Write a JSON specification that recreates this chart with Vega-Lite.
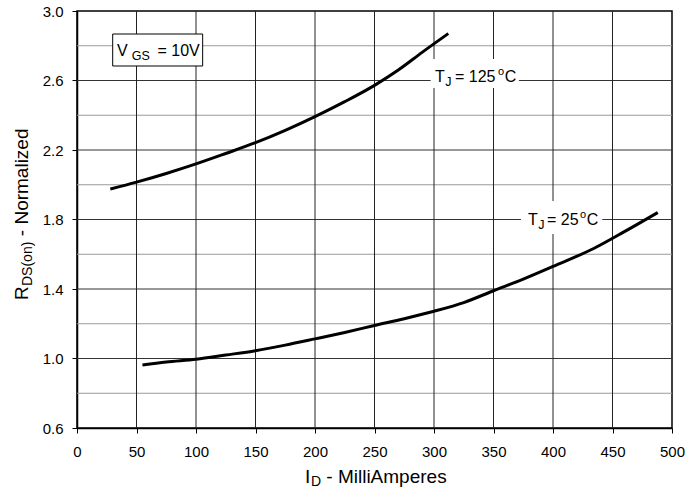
{
  "$schema": "https://vega.github.io/schema/vega-lite/v6.json",
  "width": 595,
  "height": 417,
  "autosize": {"type": "none"},
  "padding": {"left": 77, "top": 11, "right": 16, "bottom": 60},
  "background": "white",
  "config": {
    "font": "Liberation Sans",
    "view": {"stroke": "#000", "strokeWidth": 1.5},
    "axis": {"grid": false, "labelFont": "Liberation Sans", "labelFontSize": 15, "labelColor": "#000", "tickColor": "#000", "domainColor": "#000", "domainWidth": 1.5, "tickSize": 5, "tickWidth": 1}
  },
  "resolve": {"axis": {"x": "independent", "y": "independent"}},
  "datasets": {
    "curves": [
      {"series": "125C", "x": 28, "y": 1.975},
      {"series": "125C", "x": 50, "y": 2.015},
      {"series": "125C", "x": 75, "y": 2.065},
      {"series": "125C", "x": 100, "y": 2.12},
      {"series": "125C", "x": 125, "y": 2.18},
      {"series": "125C", "x": 150, "y": 2.242},
      {"series": "125C", "x": 175, "y": 2.313},
      {"series": "125C", "x": 200, "y": 2.392},
      {"series": "125C", "x": 225, "y": 2.478},
      {"series": "125C", "x": 250, "y": 2.572},
      {"series": "125C", "x": 270, "y": 2.66},
      {"series": "125C", "x": 290, "y": 2.762},
      {"series": "125C", "x": 312, "y": 2.87},
      {"series": "25C", "x": 55, "y": 0.963},
      {"series": "25C", "x": 75, "y": 0.98},
      {"series": "25C", "x": 100, "y": 0.996},
      {"series": "25C", "x": 125, "y": 1.02},
      {"series": "25C", "x": 150, "y": 1.045},
      {"series": "25C", "x": 175, "y": 1.077},
      {"series": "25C", "x": 200, "y": 1.113},
      {"series": "25C", "x": 225, "y": 1.15},
      {"series": "25C", "x": 250, "y": 1.19},
      {"series": "25C", "x": 275, "y": 1.229},
      {"series": "25C", "x": 300, "y": 1.272},
      {"series": "25C", "x": 325, "y": 1.322},
      {"series": "25C", "x": 350, "y": 1.39},
      {"series": "25C", "x": 375, "y": 1.457},
      {"series": "25C", "x": 400, "y": 1.53},
      {"series": "25C", "x": 435, "y": 1.636},
      {"series": "25C", "x": 460, "y": 1.73},
      {"series": "25C", "x": 488, "y": 1.84}
    ],
    "gridx": [
      {"x": 50}, {"x": 100}, {"x": 150}, {"x": 200}, {"x": 250},
      {"x": 300}, {"x": 350}, {"x": 400}, {"x": 450}
    ],
    "gridy": [
      {"y": 0.8, "major": 0},
      {"y": 1.0, "major": 1},
      {"y": 1.2, "major": 0},
      {"y": 1.4, "major": 1},
      {"y": 1.6, "major": 0},
      {"y": 1.8, "major": 1},
      {"y": 2.0, "major": 0},
      {"y": 2.2, "major": 1},
      {"y": 2.4, "major": 0},
      {"y": 2.6, "major": 1},
      {"y": 2.8, "major": 0}
    ],
    "boxes": [
      {"x": 297.2, "x2": 371.4, "y": 2.557, "y2": 2.724},
      {"x": 373.1, "x2": 441.4, "y": 1.7165, "y2": 1.9065}
    ],
    "legendbox": [
      {"x": 30.0, "x2": 105.6, "y": 2.6835, "y2": 2.8676}
    ],
    "labels": [
      {"t": "V", "x": 33.6, "y": 2.741, "r": "main"},
      {"t": "GS", "x": 46.0, "y": 2.741, "r": "sub"},
      {"t": "= 10V", "x": 67.6, "y": 2.741, "r": "main"},
      {"t": "T", "x": 300.8, "y": 2.59, "r": "main"},
      {"t": "J", "x": 309.5, "y": 2.59, "r": "sub"},
      {"t": "= 125", "x": 317.6, "y": 2.59, "r": "main"},
      {"t": "o", "x": 353.8, "y": 2.59, "r": "sup"},
      {"t": "C", "x": 359.4, "y": 2.59, "r": "main"},
      {"t": "T", "x": 379.0, "y": 1.768, "r": "main"},
      {"t": "J", "x": 387.6, "y": 1.768, "r": "sub"},
      {"t": "= 25", "x": 395.0, "y": 1.768, "r": "main"},
      {"t": "o", "x": 422.7, "y": 1.768, "r": "sup"},
      {"t": "C", "x": 428.4, "y": 1.768, "r": "main"},
      {"t": "I", "x": 191.6, "y": 0.285, "r": "xtitle"},
      {"t": "D", "x": 196.6, "y": 0.285, "r": "xtitlesub"},
      {"t": "- MilliAmperes", "x": 209.5, "y": 0.285, "r": "xtitle"},
      {"t": "R", "x": -41.2, "y": 1.3367, "r": "ytitle"},
      {"t": "DS(on)", "x": -41.2, "y": 1.4173, "r": "ytitlesub"},
      {"t": "- Normalized", "x": -41.2, "y": 1.7039, "r": "ytitle"}
    ]
  },
  "layer": [
    {
      "data": {"name": "gridy"},
      "transform": [{"filter": "datum.major == 0"}],
      "mark": {"type": "rule", "color": "#9a9a9a", "strokeWidth": 1},
      "encoding": {
        "x": {"datum": 0, "type": "quantitative", "axis": null},
        "x2": {"datum": 500},
        "y": {"field": "y", "type": "quantitative", "axis": null}
      }
    },
    {
      "data": {"name": "gridy"},
      "transform": [{"filter": "datum.major == 1"}],
      "mark": {"type": "rule", "color": "#333", "strokeWidth": 1},
      "encoding": {
        "x": {"datum": 0, "type": "quantitative", "axis": null},
        "x2": {"datum": 500},
        "y": {"field": "y", "type": "quantitative", "axis": null}
      }
    },
    {
      "data": {"name": "gridx"},
      "mark": {"type": "rule", "color": "#222", "strokeWidth": 1},
      "encoding": {
        "x": {"field": "x", "type": "quantitative", "axis": null},
        "y": {"datum": 0.6, "type": "quantitative", "axis": null},
        "y2": {"datum": 3.0}
      }
    },
    {
      "data": {"name": "curves"},
      "mark": {"type": "line", "color": "#000", "strokeWidth": 3, "interpolate": "monotone"},
      "encoding": {
        "x": {
          "field": "x", "type": "quantitative", "title": null,
          "scale": {"domain": [0, 500], "nice": false, "zero": false},
          "axis": {"values": [0, 50, 100, 150, 200, 250, 300, 350, 400, 450, 500], "grid": false, "labelPadding": 11, "labelFlush": false}
        },
        "y": {
          "field": "y", "type": "quantitative", "title": null,
          "scale": {"domain": [0.6, 3.0], "nice": false, "zero": false},
          "axis": {
            "values": [0.6, 1.0, 1.4, 1.8, 2.2, 2.6, 3.0],
            "format": ".1f",
            "grid": false,
            "labelFlush": false,
            "labelPadding": 9
          }
        },
        "detail": {"field": "series"}
      }
    },
    {
      "data": {"name": "boxes"},
      "mark": {"type": "rect", "fill": "white", "strokeWidth": 0},
      "encoding": {
        "x": {"field": "x", "type": "quantitative", "axis": null},
        "x2": {"field": "x2"},
        "y": {"field": "y", "type": "quantitative", "axis": null},
        "y2": {"field": "y2"}
      }
    },
    {
      "data": {"name": "legendbox"},
      "mark": {"type": "rect", "fill": "white", "stroke": "#000", "strokeWidth": 1},
      "encoding": {
        "x": {"field": "x", "type": "quantitative", "axis": null},
        "x2": {"field": "x2"},
        "y": {"field": "y", "type": "quantitative", "axis": null},
        "y2": {"field": "y2"}
      }
    },
    {
      "data": {"name": "labels"},
      "transform": [{"filter": "datum.r == 'main'"}],
      "mark": {"type": "text", "align": "left", "baseline": "alphabetic", "fontSize": 16, "color": "#000"},
      "encoding": {
        "x": {"field": "x", "type": "quantitative", "axis": null},
        "y": {"field": "y", "type": "quantitative", "axis": null},
        "text": {"field": "t"}
      }
    },
    {
      "data": {"name": "labels"},
      "transform": [{"filter": "datum.r == 'sub'"}],
      "mark": {"type": "text", "align": "left", "baseline": "alphabetic", "fontSize": 12.5, "dy": 4, "color": "#000"},
      "encoding": {
        "x": {"field": "x", "type": "quantitative", "axis": null},
        "y": {"field": "y", "type": "quantitative", "axis": null},
        "text": {"field": "t"}
      }
    },
    {
      "data": {"name": "labels"},
      "transform": [{"filter": "datum.r == 'sup'"}],
      "mark": {"type": "text", "align": "left", "baseline": "alphabetic", "fontSize": 11, "dy": -7, "color": "#000"},
      "encoding": {
        "x": {"field": "x", "type": "quantitative", "axis": null},
        "y": {"field": "y", "type": "quantitative", "axis": null},
        "text": {"field": "t"}
      }
    },
    {
      "data": {"name": "labels"},
      "transform": [{"filter": "datum.r == 'xtitle'"}],
      "mark": {"type": "text", "align": "left", "baseline": "alphabetic", "fontSize": 19, "color": "#000"},
      "encoding": {
        "x": {"field": "x", "type": "quantitative", "axis": null},
        "y": {"field": "y", "type": "quantitative", "axis": null},
        "text": {"field": "t"}
      }
    },
    {
      "data": {"name": "labels"},
      "transform": [{"filter": "datum.r == 'xtitlesub'"}],
      "mark": {"type": "text", "align": "left", "baseline": "alphabetic", "fontSize": 14, "dy": 3, "color": "#000"},
      "encoding": {
        "x": {"field": "x", "type": "quantitative", "axis": null},
        "y": {"field": "y", "type": "quantitative", "axis": null},
        "text": {"field": "t"}
      }
    },
    {
      "data": {"name": "labels"},
      "transform": [{"filter": "datum.r == 'ytitle'"}],
      "mark": {"type": "text", "align": "left", "baseline": "alphabetic", "fontSize": 19, "angle": 270, "color": "#000"},
      "encoding": {
        "x": {"field": "x", "type": "quantitative", "axis": null},
        "y": {"field": "y", "type": "quantitative", "axis": null},
        "text": {"field": "t"}
      }
    },
    {
      "data": {"name": "labels"},
      "transform": [{"filter": "datum.r == 'ytitlesub'"}],
      "mark": {"type": "text", "align": "left", "baseline": "alphabetic", "fontSize": 14, "angle": 270, "dy": 4, "color": "#000"},
      "encoding": {
        "x": {"field": "x", "type": "quantitative", "axis": null},
        "y": {"field": "y", "type": "quantitative", "axis": null},
        "text": {"field": "t"}
      }
    }
  ]
}
